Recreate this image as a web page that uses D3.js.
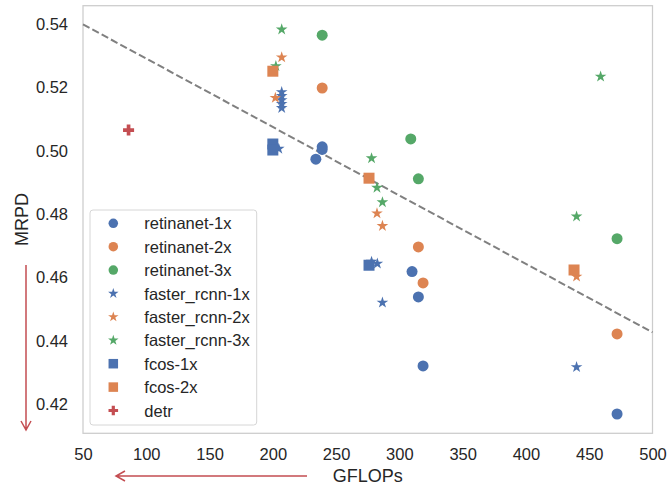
<!DOCTYPE html>
<html>
<head>
<meta charset="utf-8">
<script src="https://cdn.jsdelivr.net/npm/d3@7"></script>
<style>
    body { margin: 0; background: #fff; }
    text { font-family: "Liberation Sans", Arial, sans-serif; fill: #262626; }
</style>
</head>
<body>
<div id="draw"></div>
<script>
// series, in drawing order
var names = ['retinanet-1x', 'retinanet-2x', 'retinanet-3x',
    'faster_rcnn-1x', 'faster_rcnn-2x', 'faster_rcnn-3x',
    'fcos-1x', 'fcos-2x', 'detr'];
var shapes = ['circle', 'circle', 'circle', 'star', 'star', 'star', 'square', 'square', 'cross'];
var colors = ['#4c72b0', '#dd8452', '#55a868', '#4c72b0', '#dd8452', '#55a868', '#4c72b0', '#dd8452', '#c44e52'];

// GFLOPs per point
var gflops = [
    [239, 239, 234, 310, 315, 318.7, 472],
    [239, 315, 318.7, 472],
    [239, 309, 315, 472],
    [207, 207, 207, 207, 207, 204.7, 278, 282.6, 286.6, 440],
    [207, 202, 282.3, 286.6, 440],
    [207, 202.4, 278, 282.3, 286.6, 440, 459],
    [200, 200, 276],
    [200, 276, 438],
    [86]
];
// MRPD per point
var mrpd = [
    [0.5013, 0.5005, 0.4974, 0.4619, 0.4539, 0.4321, 0.4169],
    [0.5199, 0.4697, 0.4583, 0.4422],
    [0.5366, 0.5038, 0.4912, 0.4723],
    [0.5186, 0.5174, 0.5161, 0.5149, 0.5136, 0.5007, 0.4650, 0.4644, 0.4521, 0.4317],
    [0.5296, 0.5168, 0.4803, 0.4763, 0.4603],
    [0.5384, 0.5268, 0.4977, 0.4884, 0.4838, 0.4793, 0.5235],
    [0.5022, 0.5003, 0.4639],
    [0.5252, 0.4914, 0.4624],
    [0.5066]
];

// dashed trend line
var trendX = [50, 500];
var trendY = [0.54, 0.4427];

var xTicks = [50, 100, 150, 200, 250, 300, 350, 400, 450, 500];
var yTicks = [0.42, 0.44, 0.46, 0.48, 0.50, 0.52, 0.54];

(function () {
    "use strict";

    var W = 667, H = 486,
        left = 83, right = 652.5, top = 5.7, bottom = 433.3;

    var svg = d3.select('#draw').append('svg').attr('width', W).attr('height', H);

    var x = d3.scaleLinear().domain([50, 500]).range([left, right]);
    var y = d3.scaleLinear().domain([0.4108, 0.5459]).range([bottom, top]);

    var symbolOf = {
        circle: { type: d3.symbolCircle, size: 95 },
        star: { type: d3.symbolStar, size: 42 },
        square: { type: d3.symbolSquare, size: 121 },
        cross: { type: d3.symbolCross, size: 68 }
    };

    // frame
    svg.append('rect')
        .attr('x', left).attr('y', top)
        .attr('width', right - left).attr('height', bottom - top)
        .attr('fill', 'none').attr('stroke', '#cccccc').attr('stroke-width', 1.25);

    // axes (labels only, no tick marks)
    var xAxis = svg.append('g').attr('transform', 'translate(0,' + bottom + ')')
        .call(d3.axisBottom(x).tickValues(xTicks).tickSize(0).tickPadding(15).tickFormat(d3.format('d')));
    var yAxis = svg.append('g').attr('transform', 'translate(' + left + ',0)')
        .call(d3.axisLeft(y).tickValues(yTicks).tickSize(0).tickPadding(15).tickFormat(d3.format('.2f')));
    [xAxis, yAxis].forEach(function (g) {
        g.select('.domain').remove();
        g.selectAll('text').attr('font-size', 16.5).attr('fill', '#262626')
            .attr('font-family', '"Liberation Sans", Arial, sans-serif');
    });

    // trend line
    svg.append('path')
        .datum(d3.zip(trendX, trendY))
        .attr('d', d3.line().x(function (d) { return x(d[0]); }).y(function (d) { return y(d[1]); }))
        .attr('fill', 'none').attr('stroke', '#808080').attr('stroke-width', 2)
        .attr('stroke-dasharray', '7.4,3.2');

    // points
    names.forEach(function (name, i) {
        var sym = symbolOf[shapes[i]];
        svg.append('g').selectAll('path')
            .data(d3.zip(gflops[i], mrpd[i]))
            .join('path')
            .attr('transform', function (d) { return 'translate(' + x(d[0]) + ',' + y(d[1]) + ')'; })
            .attr('d', d3.symbol().type(sym.type).size(sym.size))
            .attr('fill', colors[i]);
    });

    // legend
    var lg = svg.append('g');
    lg.append('rect')
        .attr('x', 90).attr('y', 210).attr('width', 166.7).attr('height', 215)
        .attr('rx', 3).attr('fill', 'rgba(255,255,255,0.8)')
        .attr('stroke', '#d6d6d6').attr('stroke-width', 1);
    names.forEach(function (name, i) {
        var sym = symbolOf[shapes[i]],
            ry = 223.3 + i * 23.4;
        lg.append('path')
            .attr('transform', 'translate(113.3,' + ry + ')')
            .attr('d', d3.symbol().type(sym.type).size(shapes[i] === 'star' ? 34 : sym.size * 0.75))
            .attr('fill', colors[i]);
        lg.append('text')
            .attr('x', 144.3).attr('y', ry + 6)
            .attr('font-size', 16.5)
            .text(name);
    });

    // axis titles
    svg.append('text')
        .attr('x', (left + right) / 2).attr('y', 482)
        .attr('text-anchor', 'middle').attr('font-size', 18)
        .text('GFLOPs');
    svg.append('text')
        .attr('transform', 'translate(28,' + ((top + bottom) / 2) + ') rotate(-90)')
        .attr('text-anchor', 'middle').attr('font-size', 18)
        .text('MRPD');

    // "lower is better" arrows
    var red = '#c44e52';
    svg.append('path')
        .attr('d', 'M26,265 V430 M21,421 L26,430 L31,421')
        .attr('fill', 'none').attr('stroke', red).attr('stroke-width', 1.5);
    svg.append('path')
        .attr('d', 'M307,476 H116 M125,471 L116,476 L125,481')
        .attr('fill', 'none').attr('stroke', red).attr('stroke-width', 1.5);
}());
</script>
</body>
</html>
